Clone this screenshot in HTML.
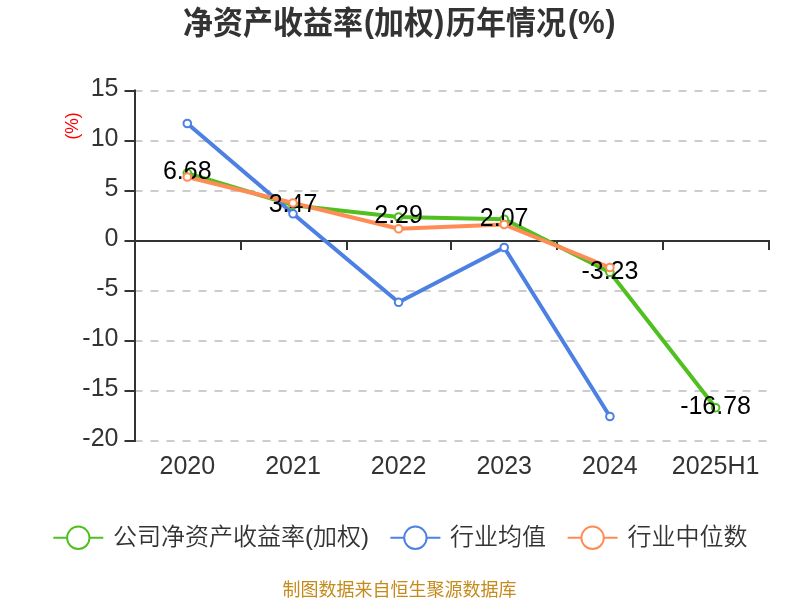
<!DOCTYPE html>
<html lang="zh-CN">
<head>
<meta charset="utf-8">
<title>净资产收益率(加权)历年情况(%)</title>
<style>
  html, body { margin: 0; padding: 0; background: #ffffff; }
  body { width: 800px; height: 600px; overflow: hidden; }
  svg { display: block; will-change: transform; }
  text { font-family: "Liberation Sans", "Noto Sans CJK SC", sans-serif; }
  .title { font-size: 30px; font-weight: bold; fill: #333333; }
  .ylab { font-size: 25px; fill: #333333; text-anchor: end; }
  .xlab { font-size: 25px; fill: #333333; text-anchor: middle; }
  .dlab { font-size: 25px; fill: #000000; text-anchor: middle; }
  .leg { font-size: 24px; font-weight: 350; fill: #333333; }
  .yname { font-size: 17.5px; fill: #ff0000; text-anchor: middle; }
  .foot { font-size: 18px; font-weight: 400; fill: #c58a1c; text-anchor: middle; }
  .grid line { stroke: #cccccc; stroke-width: 2; stroke-dasharray: 8 8; }
  .axis line { stroke: #333333; stroke-width: 2; }
  .ln { fill: none; stroke-width: 4; stroke-linejoin: bevel; }
  .pt circle { fill: #ffffff; stroke-width: 2; }
</style>
</head>
<body>
<svg width="800" height="600" viewBox="0 0 800 600">
  <rect x="0" y="0" width="800" height="600" fill="#ffffff"/>

  <text class="title" transform="translate(0,34) scale(1,1.045)" y="0"><tspan x="183">净资产收益率</tspan><tspan x="364" dy="-2">(</tspan><tspan x="374" dy="2">加权</tspan><tspan x="434.3" dy="-2">)</tspan><tspan x="446" dy="2">历年情况</tspan><tspan x="568" dy="-2">(</tspan><tspan x="578" dy="1">%</tspan><tspan x="605.6" dy="-1">)</tspan></text>

  <g class="grid">
    <line x1="134.5" y1="91" x2="769" y2="91"/>
    <line x1="134.5" y1="141" x2="769" y2="141"/>
    <line x1="134.5" y1="191" x2="769" y2="191"/>
    <line x1="134.5" y1="291" x2="769" y2="291"/>
    <line x1="134.5" y1="341" x2="769" y2="341"/>
    <line x1="134.5" y1="391" x2="769" y2="391"/>
    <line x1="134.5" y1="441" x2="769" y2="441"/>
  </g>

  <g class="axis">
    <line x1="135" y1="89.5" x2="135" y2="442"/>
    <line x1="124.5" y1="91" x2="135" y2="91"/>
    <line x1="124.5" y1="141" x2="135" y2="141"/>
    <line x1="124.5" y1="191" x2="135" y2="191"/>
    <line x1="124.5" y1="241" x2="135" y2="241"/>
    <line x1="124.5" y1="291" x2="135" y2="291"/>
    <line x1="124.5" y1="341" x2="135" y2="341"/>
    <line x1="124.5" y1="391" x2="135" y2="391"/>
    <line x1="124.5" y1="441" x2="135" y2="441"/>
    <line x1="135" y1="241" x2="770" y2="241"/>
    <line x1="241" y1="241" x2="241" y2="250"/>
    <line x1="347" y1="241" x2="347" y2="250"/>
    <line x1="451" y1="241" x2="451" y2="250"/>
    <line x1="557" y1="241" x2="557" y2="250"/>
    <line x1="663" y1="241" x2="663" y2="250"/>
    <line x1="769" y1="241" x2="769" y2="250"/>
  </g>

  <g>
    <text class="ylab" x="118.5" y="95.8">15</text>
    <text class="ylab" x="118.5" y="145.8">10</text>
    <text class="ylab" x="118.5" y="195.8">5</text>
    <text class="ylab" x="118.5" y="245.8">0</text>
    <text class="ylab" x="118.5" y="295.8">-5</text>
    <text class="ylab" x="118.5" y="345.8">-10</text>
    <text class="ylab" x="118.5" y="395.8">-15</text>
    <text class="ylab" x="118.5" y="445.8">-20</text>
  </g>

  <text class="yname" transform="translate(77.7,126) rotate(-90)" x="0" y="0">(%)</text>

  <g>
    <text class="xlab" x="187.3" y="473.8">2020</text>
    <text class="xlab" x="293" y="473.8">2021</text>
    <text class="xlab" x="398.6" y="473.8">2022</text>
    <text class="xlab" x="504.2" y="473.8">2023</text>
    <text class="xlab" x="609.9" y="473.8">2024</text>
    <text class="xlab" x="715.6" y="473.8">2025H1</text>
  </g>

  <polyline class="ln" stroke="#50c020" points="187.3,173.1 293,205.2 398.6,217.0 504.2,219.2 609.9,272.2 715.6,407.7"/>
  <polyline class="ln" stroke="#4c80e2" points="187.3,123.5 293,213.8 398.6,302.3 504.2,247.5 609.9,416.5"/>
  <polyline class="ln" stroke="#ff8c55" points="187.3,177 293,203 398.6,228.8 504.2,224.5 609.9,267.5"/>

  <g class="pt" stroke="#50c020">
    <circle cx="187.3" cy="173.1" r="3.8"/>
    <circle cx="293" cy="205.2" r="3.8"/>
    <circle cx="398.6" cy="217.0" r="3.8"/>
    <circle cx="504.2" cy="219.2" r="3.8"/>
    <circle cx="609.9" cy="272.2" r="3.8"/>
    <circle cx="715.6" cy="407.7" r="3.8"/>
  </g>
  <g>
    <text class="dlab" x="187.3" y="178.9">6.68</text>
    <text class="dlab" x="293" y="212">3.47</text>
    <text class="dlab" x="398.6" y="222.9">2.29</text>
    <text class="dlab" x="504.2" y="225.5">2.07</text>
    <text class="dlab" x="609.9" y="278.7">-3.23</text>
    <text class="dlab" x="715.6" y="413.8">-16.78</text>
  </g>
  <g class="pt" stroke="#4c80e2">
    <circle cx="187.3" cy="123.5" r="3.8"/>
    <circle cx="293" cy="213.8" r="3.8"/>
    <circle cx="398.6" cy="302.3" r="3.8"/>
    <circle cx="504.2" cy="247.5" r="3.8"/>
    <circle cx="609.9" cy="416.5" r="3.8"/>
  </g>
  <g class="pt" stroke="#ff8c55">
    <circle cx="187.3" cy="177" r="3.8"/>
    <circle cx="293" cy="203" r="3.8"/>
    <circle cx="398.6" cy="228.8" r="3.8"/>
    <circle cx="504.2" cy="224.5" r="3.8"/>
    <circle cx="609.9" cy="267.5" r="3.8"/>
  </g>

  <g>
    <line x1="53.3" y1="537.8" x2="103.3" y2="537.8" stroke="#50c020" stroke-width="2"/>
    <circle cx="78.3" cy="537.8" r="11.2" fill="#ffffff" stroke="#50c020" stroke-width="2"/>
    <text class="leg" x="113" y="545">公司净资产收益率(加权)</text>

    <line x1="390.4" y1="537.8" x2="440.4" y2="537.8" stroke="#4c80e2" stroke-width="2"/>
    <circle cx="415.4" cy="537.8" r="11.2" fill="#ffffff" stroke="#4c80e2" stroke-width="2"/>
    <text class="leg" x="450" y="545">行业均值</text>

    <line x1="567.6" y1="537.8" x2="617.6" y2="537.8" stroke="#ff8c55" stroke-width="2"/>
    <circle cx="592.6" cy="537.8" r="11.2" fill="#ffffff" stroke="#ff8c55" stroke-width="2"/>
    <text class="leg" x="627.5" y="545">行业中位数</text>
  </g>

  <text class="foot" x="399.5" y="596">制图数据来自恒生聚源数据库</text>
</svg>
</body>
</html>
